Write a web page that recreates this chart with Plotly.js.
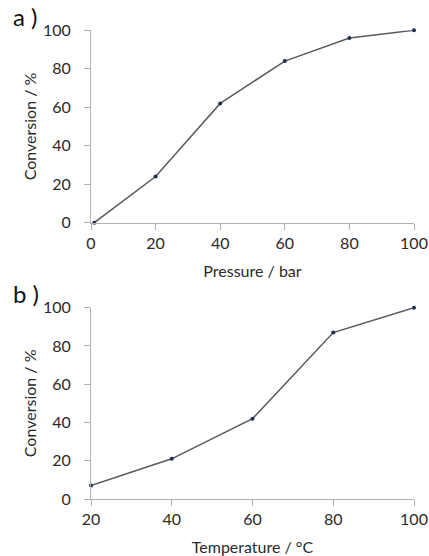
<!DOCTYPE html>
<html>
<head>
<meta charset="utf-8">
<script src="https://cdn.plot.ly/plotly-3.0.1.min.js"></script>
<style>html,body{margin:0;padding:0;background:#fff;}#chart{width:429px;height:556px;}</style>
</head>
<body>
<div id="chart"></div>
<script>
const pressure = [1, 20, 40, 60, 80, 100];
const conversionPressure = [0, 24, 62, 84, 96, 100];
const temperature = [20, 40, 60, 80, 100];
const conversionTemperature = [7, 21, 42, 87, 100];
const panelLabels = ["a )", "b )"];
const xTitles = ["Pressure / bar", "Temperature / °C"];
const yTitle = "Conversion / %";

const FONT = "Lato, 'Open Sans', sans-serif";
const lineStyle = {color: "#5a5a5a", width: 1.5};
const markerStyle = {color: "#1f2d50", size: 4};

const traces = [
  {x: pressure, y: conversionPressure, xaxis: "x", yaxis: "y", mode: "lines+markers",
   line: lineStyle, marker: markerStyle, cliponaxis: false, hoverinfo: "x+y"},
  {x: temperature, y: conversionTemperature, xaxis: "x2", yaxis: "y2", mode: "lines+markers",
   line: lineStyle, marker: markerStyle, cliponaxis: false, hoverinfo: "x+y"}
];

const axBase = {
  showgrid: false, zeroline: false, showline: true, linecolor: "#b0b0b0", linewidth: 1,
  ticks: "outside", ticklen: 6, tickcolor: "#b0b0b0", tickwidth: 1,
  tickfont: {family: FONT, size: 16, color: "#2a2a2a"}, automargin: false, fixedrange: true
};
const titleFont = {family: FONT, size: 16, color: "#2a2a2a"};

const H = 556;
const layout = {
  width: 429, height: 556,
  margin: {l: 91, r: 15, t: 0, b: 0},
  paper_bgcolor: "#fff", plot_bgcolor: "#fff",
  showlegend: false,
  font: {family: FONT, color: "#2a2a2a"},
  xaxis: Object.assign({}, axBase, {anchor: "y", range: [0, 100], tickvals: [0, 20, 40, 60, 80, 100],
    title: {text: xTitles[0], font: titleFont, standoff: 14}}),
  yaxis: Object.assign({}, axBase, {anchor: "x", domain: [1 - 222.7 / H, 1 - 30.3 / H], range: [0, 100],
    tickvals: [0, 20, 40, 60, 80, 100], ticklabelstandoff: 10,
    title: {text: yTitle, font: titleFont, standoff: 2}}),
  xaxis2: Object.assign({}, axBase, {anchor: "y2", range: [20, 100], tickvals: [20, 40, 60, 80, 100],
    title: {text: xTitles[1], font: titleFont, standoff: 14}}),
  yaxis2: Object.assign({}, axBase, {anchor: "x2", domain: [1 - 499 / H, 1 - 307.7 / H], range: [0, 100],
    tickvals: [0, 20, 40, 60, 80, 100], ticklabelstandoff: 10,
    title: {text: yTitle, font: titleFont, standoff: 2}}),
  annotations: [
    {text: panelLabels[0], xref: "paper", yref: "paper", x: (11 - 91) / 323, y: 1 - 16 / H,
     xanchor: "left", yanchor: "middle", showarrow: false, font: {family: FONT, size: 24, color: "#111"}},
    {text: panelLabels[1], xref: "paper", yref: "paper", x: (11 - 91) / 323, y: 1 - 293 / H,
     xanchor: "left", yanchor: "middle", showarrow: false, font: {family: FONT, size: 24, color: "#111"}}
  ]
};

Plotly.newPlot("chart", traces, layout, {displayModeBar: false, staticPlot: true});
</script>
</body>
</html>
